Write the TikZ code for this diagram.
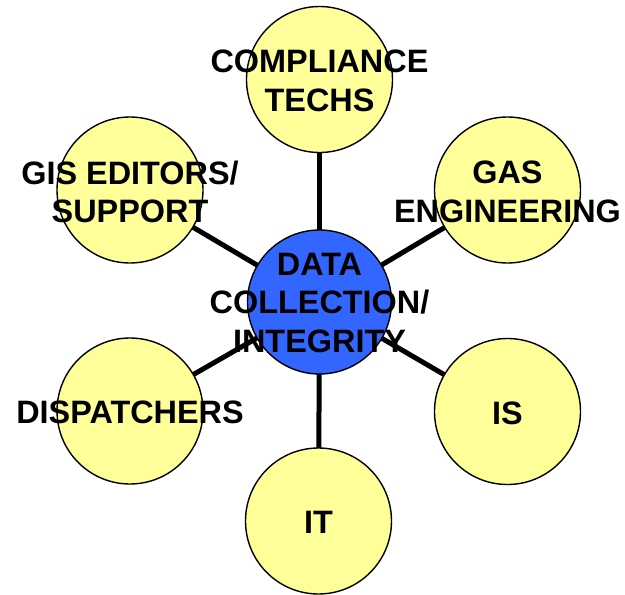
\documentclass[tikz,border=0pt]{standalone}
\usepackage{fontspec}
\setmainfont{Liberation Sans}
\usetikzlibrary{backgrounds}
\definecolor{paleyellow}{HTML}{FFFF99}
\definecolor{hubblue}{HTML}{3366FF}
\begin{document}
\begin{tikzpicture}[x=1pt,y=-1pt,
  bubble/.style={circle,draw=black,line width=1.4pt,fill=paleyellow,minimum size=146pt,inner sep=0pt},
  hub/.style={circle,draw=black,line width=1.4pt,fill=hubblue,minimum size=144pt,inner sep=0pt},
  lbl/.style={align=center,inner sep=0pt,font=\fontsize{32.4}{38.5}\selectfont\bfseries},
  spoke/.style={line width=5pt,black}]
\useasboundingbox (0,0) rectangle (625,595);
\node[hub] (hub) at (319.5,302) {};
\node[bubble] (comp) at (319.5,79.5) {};
\node[bubble] (gis) at (130,190) {};
\node[bubble] (gas) at (507.5,190) {};
\node[bubble] (disp) at (130,411) {};
\node[bubble] (is) at (507.5,411.5) {};
\node[bubble] (it) at (318.5,521) {};
\begin{pgfonlayer}{background}
\draw[spoke] (hub.center) -- (comp.center);
\draw[spoke] (hub.center) -- (gis.center);
\draw[spoke] (hub.center) -- (gas.center);
\draw[spoke] (hub.center) -- (disp.center);
\draw[spoke] (hub.center) -- (is.center);
\draw[spoke] (hub.center) -- (it.center);
\end{pgfonlayer}
\node[lbl] (tcomp) at ([yshift=-1.5pt]comp.center) {COMPLIANCE\\TECHS};
\node[lbl] (tgis) at ([yshift=-2pt]gis.center) {GIS EDITORS/\\SUPPORT};
\node[lbl] (tgas) at ([yshift=-2pt]gas.center) {GAS\\ENGINEERING};
\node[lbl] (thub) at ([yshift=-1pt]hub.center) {DATA\\COLLECTION/\\INTEGRITY};
\node[lbl] (tdisp) at ([yshift=-1.5pt]disp.center) {DISPATCHERS};
\node[lbl] (tis) at ([yshift=-1.5pt]is.center) {IS};
\node[lbl] (tit) at ([yshift=-1.5pt]it.center) {IT};
\end{tikzpicture}
\end{document}
